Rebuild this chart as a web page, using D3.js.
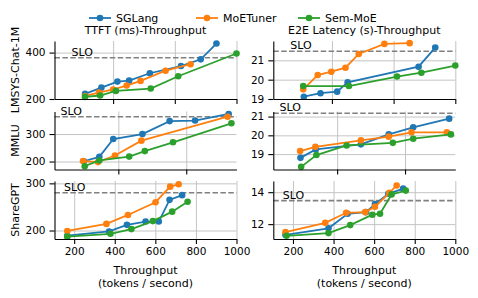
<!DOCTYPE html>
<html>
<head>
<meta charset="utf-8">
<script src="https://cdn.jsdelivr.net/npm/d3@7"></script>
<style>
  body { margin: 0; background: #fff; }
  text { font-family: "DejaVu Sans", sans-serif; fill: #000; }
</style>
</head>
<body>
<svg id="chart" width="478" height="298"></svg>
<script>
const seriesNames = ['SGLang', 'MoETuner', 'Sem-MoE'];
const seriesColors = ['#1f77b4', '#ff7f0e', '#2ca02c'];
const datasets = ['LMSYS-Chat-1M', 'MMLU', 'ShareGPT'];
const metrics = ['TTFT (ms)-Throughput', 'E2E Latency (s)-Throughput'];

// each point: [throughput (tokens/s), metric value]
const lmsysTtftSGLang = [[509, 222], [562, 249], [614, 275], [652, 279], [719, 311], [820, 342], [884, 371], [935, 439]];
const lmsysTtftMoETuner = [[509, 213], [554, 228], [600, 241], [644, 258], [689, 278], [770, 322], [851, 350]];
const lmsysTtftSemMoE = [[509, 209], [558, 215], [609, 235], [722, 245], [811, 298], [1000, 396]];

const lmsysE2eSGLang = [[509, 19.12], [563, 19.30], [617, 19.38], [651, 19.86], [881, 20.67], [935, 21.66]];
const lmsysE2eMoETuner = [[507, 19.50], [554, 20.24], [598, 20.41], [644, 20.62], [687, 21.33], [770, 21.85], [852, 21.89]];
const lmsysE2eSemMoE = [[507, 19.67], [655, 19.67], [811, 20.16], [890, 20.36], [1000, 20.73]];

const mmluTtftSGLang = [[298, 201], [344, 217], [385, 282], [471, 300], [551, 347], [626, 349], [725, 373]];
const mmluTtftMoETuner = [[296, 202], [340, 198], [390, 222], [468, 276], [722, 363]];
const mmluTtftSemMoE = [[301, 183], [344, 204], [432, 218], [478, 238], [561, 270], [733, 339]];

const mmluE2eSGLang = [[292, 18.80], [337, 19.25], [470, 19.52], [552, 20.05], [624, 20.43], [730, 20.89]];
const mmluE2eMoETuner = [[291, 19.16], [336, 19.39], [470, 19.73], [552, 19.93], [619, 20.16], [723, 20.16]];
const mmluE2eSemMoE = [[294, 18.32], [339, 18.95], [428, 19.46], [564, 19.60], [624, 19.82], [735, 20.05]];

const sharegptTtftSGLang = [[166, 189], [372, 198], [460, 212], [552, 219], [617, 219], [670, 265], [732, 275]];
const sharegptTtftMoETuner = [[166, 199], [359, 214], [465, 233], [601, 260], [673, 293], [715, 298]];
const sharegptTtftSemMoE = [[166, 187], [379, 193], [482, 203], [588, 220], [683, 240], [759, 261]];

const sharegptE2eSGLang = [[163, 11.33], [375, 11.74], [469, 12.65], [560, 12.75], [604, 13.25], [670, 13.90], [743, 14.22]];
const sharegptE2eMoETuner = [[163, 11.50], [359, 12.08], [462, 12.71], [556, 12.75], [604, 13.09], [675, 13.96], [711, 14.42]];
const sharegptE2eSemMoE = [[168, 11.27], [375, 11.44], [482, 11.94], [591, 12.59], [629, 12.65], [686, 13.86], [756, 14.10]];

// SLO per dataset: [TTFT ms, E2E s]
const sloValues = [[378, 21.47], [363, 21.18], [280, 13.47]];
const sloLabelX = [465, 230, 150];

const xDomains = [[410, 1000], [212, 748], [103, 1000]];
const xTicks = [[600, 800, 1000], [400, 600], [200, 400, 600, 800, 1000]];
const yDomains = [[[200, 450], [19, 22]], [[171, 382], [18.18, 21.27]], [[182, 305], [11.07, 14.7]]];
const yTicks = [[[200, 400], [19, 20, 21]], [[200, 300], [19, 20, 21]], [[200, 300], [12, 14]]];

const panelData = [
  [[lmsysTtftSGLang, lmsysTtftMoETuner, lmsysTtftSemMoE], [lmsysE2eSGLang, lmsysE2eMoETuner, lmsysE2eSemMoE]],
  [[mmluTtftSGLang, mmluTtftMoETuner, mmluTtftSemMoE], [mmluE2eSGLang, mmluE2eMoETuner, mmluE2eSemMoE]],
  [[sharegptTtftSGLang, sharegptTtftMoETuner, sharegptTtftSemMoE], [sharegptE2eSGLang, sharegptE2eMoETuner, sharegptE2eSemMoE]]
];

const svg = d3.select('#chart');
const colX = [54.5, 273.3];
const rowY = [41, 111.5, 181];
const W = 182;
const H = 58;

// legend
const legendX = [100, 207, 309];
seriesNames.forEach((name, i) => {
  const lg = svg.append('g').attr('transform', `translate(${legendX[i]},18)`);
  lg.append('line').attr('x1', -11).attr('x2', 11).attr('stroke', seriesColors[i]).attr('stroke-width', 1.8);
  lg.append('circle').attr('r', 3.3).attr('fill', seriesColors[i]);
  lg.append('text').attr('x', 16).attr('y', 4).attr('font-size', 11).text(name);
});

// column titles
metrics.forEach((m, c) => {
  svg.append('text')
    .attr('x', colX[c] + W / 2).attr('y', 33.5)
    .attr('text-anchor', 'middle').attr('font-size', 11)
    .text(m);
});

datasets.forEach((ds, r) => {
  svg.append('text')
    .attr('transform', `translate(18.5,${rowY[r] + H / 2}) rotate(-90)`)
    .attr('text-anchor', 'middle').attr('font-size', 11)
    .text(ds);

  [0, 1].forEach(c => {
    const g = svg.append('g').attr('transform', `translate(${colX[c]},${rowY[r]})`);
    const x = d3.scaleLinear().domain(xDomains[r]).range([0, W]);
    const y = d3.scaleLinear().domain(yDomains[r][c]).range([H, 0]);

    // grid
    g.append('g')
      .attr('transform', `translate(0,${H})`)
      .call(d3.axisBottom(x).tickValues(xTicks[r]).tickSize(-H).tickFormat(''))
      .call(s => s.select('.domain').remove())
      .call(s => s.selectAll('line').attr('stroke', '#c4c4c4').attr('stroke-width', 1));
    g.append('g')
      .call(d3.axisLeft(y).tickValues(yTicks[r][c]).tickSize(-W).tickFormat(''))
      .call(s => s.select('.domain').remove())
      .call(s => s.selectAll('line').attr('stroke', '#c4c4c4').attr('stroke-width', 1));

    // SLO line
    const slo = sloValues[r][c];
    g.append('line')
      .attr('x1', 0).attr('x2', W)
      .attr('y1', y(slo)).attr('y2', y(slo))
      .attr('stroke', '#808080').attr('stroke-width', 1.6)
      .attr('stroke-dasharray', '5.5,2.4');
    g.append('text')
      .attr('x', x(sloLabelX[r])).attr('y', y(slo) - 2)
      .attr('font-size', 11)
      .text('SLO');

    // series
    const line = d3.line().x(d => x(d[0])).y(d => y(d[1]));
    panelData[r][c].forEach((pts, i) => {
      g.append('path')
        .datum(pts)
        .attr('d', line)
        .attr('fill', 'none')
        .attr('stroke', seriesColors[i])
        .attr('stroke-width', 1.8);
      g.selectAll(null)
        .data(pts)
        .enter()
        .append('circle')
        .attr('cx', d => x(d[0]))
        .attr('cy', d => y(d[1]))
        .attr('r', 3.3)
        .attr('fill', seriesColors[i]);
    });

    // axes
    const yAxis = g.append('g')
      .call(d3.axisLeft(y).tickValues(yTicks[r][c]).tickSize(5).tickPadding(4).tickSizeOuter(0).tickFormat(d3.format('d')));
    const xAxis = g.append('g')
      .attr('transform', `translate(0,${H})`)
      .call(d3.axisBottom(x).tickValues(xTicks[r]).tickSize(5).tickPadding(4).tickSizeOuter(0)
        .tickFormat(r === 2 ? d3.format('d') : ''));
    [yAxis, xAxis].forEach(a => {
      a.selectAll('text').attr('font-size', 10.5).attr('font-family', '"DejaVu Sans", sans-serif');
      a.select('.domain').attr('stroke-width', 1.1);
      a.selectAll('.tick line').attr('stroke-width', 1.1);
    });
  });
});

// x labels
[0, 1].forEach(c => {
  svg.append('text')
    .attr('x', colX[c] + W / 2).attr('y', 273.5)
    .attr('text-anchor', 'middle').attr('font-size', 11)
    .text('Throughput');
  svg.append('text')
    .attr('x', colX[c] + W / 2).attr('y', 286.5)
    .attr('text-anchor', 'middle').attr('font-size', 11)
    .text('(tokens / second)');
});
</script>
</body>
</html>
